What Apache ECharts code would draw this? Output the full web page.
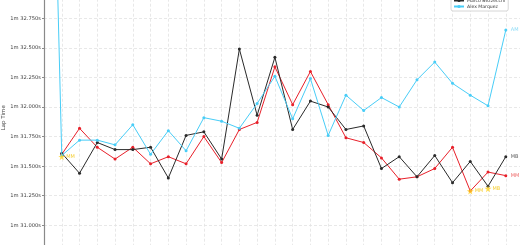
<!DOCTYPE html>
<html>
<head>
<meta charset="utf-8">
<script src="https://cdn.jsdelivr.net/npm/echarts@6/dist/echarts.min.js"></script>
<style>
html,body{margin:0;padding:0;background:#fff;}
#chart{width:520px;height:245px;}
</style>
</head>
<body>
<div id="chart"></div>
<script>
// Lap numbers
const laps = [1,2,3,4,5,6,7,8,9,10,11,12,13,14,15,16,17,18,19,20,21,22,23,24,25,26,27];
// Lap times in seconds (null = no lap shown)
const marcMarquez = [null,91.60,91.82,91.66,91.56,91.66,91.52,91.58,91.52,91.75,91.53,91.81,91.87,92.34,92.02,92.30,92.02,91.74,91.70,91.57,91.39,91.41,91.48,91.66,91.29,91.45,91.42];
const marcoBezzecchi = [null,91.61,91.44,91.70,91.64,91.64,91.66,91.40,91.76,91.79,91.56,92.49,91.93,92.42,91.81,92.05,92.00,91.81,91.84,91.48,91.58,91.41,91.59,91.36,91.54,91.33,91.58];
const alexMarquez = [97.6,91.59,91.72,91.72,91.68,91.85,91.60,91.80,91.63,91.91,91.88,91.82,92.03,92.26,91.90,92.24,91.76,92.10,91.97,92.08,92.00,92.23,92.38,92.20,92.10,92.01,92.65];
const seriesNames = ['Marc Marquez','Marco Bezzecchi','Alex Marquez'];
const endLabels = ['MM','MB','AM'];
// Fastest-lap stars
const starLaps = [2,25,26];
const starTimes = [91.58,91.29,91.31];
const starLabels = ['MM','MM','MB'];
// Y tick labels range
const yMin = 90.75, yMax = 93.0, yStep = 0.25;

const colors = ['#e8202a','#2a2a2a','#48cdf7'];
const labelColors = ['#ee6a6a','#666666','#8ddcf7'];
const allTimes = [marcMarquez, marcoBezzecchi, alexMarquez];

function pairs(arr){ return laps.map((l,i)=>[l, arr[i]]); }
function fmt(v){ const m=Math.floor(v/60); const s=v-m*60; return m+'m '+s.toFixed(3)+'s'; }

const starPath = 'path://M50,0 L61,35 L98,35 L68,57 L79,91 L50,70 L21,91 L32,57 L2,35 L39,35 Z';

const series = allTimes.map((arr,k)=>({
  name: seriesNames[k],
  type: 'line',
  data: pairs(arr),
  symbol: 'circle',
  symbolSize: 3,
  showSymbol: true,
  lineStyle: {width: 1, color: colors[k]},
  itemStyle: {color: colors[k]},
  connectNulls: false,
  animation: false,
  z: 2 + k,
  endLabel: {show: true, formatter: endLabels[k], fontSize: 5, color: labelColors[k], distance: 5, fontFamily: 'DejaVu Sans'}
}));
series.push({
  name: 'Fastest',
  type: 'scatter',
  data: starLaps.map((l,i)=>({value:[l, starTimes[i]], label:{formatter: starLabels[i]}})),
  symbol: starPath,
  symbolSize: 7,
  itemStyle: {color: '#ffd21f'},
  label: {show: true, position: 'right', distance: 1, fontSize: 5, color: '#f2c200', fontFamily: 'DejaVu Sans'},
  animation: false,
  z: 10
});

const chart = echarts.init(document.getElementById('chart'), null, {renderer: 'canvas'});
chart.setOption({
  backgroundColor: '#ffffff',
  animation: false,
  textStyle: {fontFamily: 'DejaVu Sans'},
  grid: {left: 44, right: 0, top: -11.3, bottom: -9.9, containLabel: false, outerBoundsMode: 'none'},
  legend: {
    data: seriesNames,
    orient: 'vertical',
    left: 451,
    top: -10,
    padding: [2, 3, 2, 2],
    itemGap: 1,
    itemWidth: 10,
    itemHeight: 4,
    backgroundColor: '#fff',
    borderColor: '#cccccc',
    borderWidth: 0.8,
    borderRadius: 2,
    textStyle: {fontSize: 4.6, color: '#333', lineHeight: 5, padding: [0,0,0,-2]}
  },
  xAxis: {
    type: 'value', min: 1, max: 27.8, interval: 1,
    axisLine: {show: false}, axisTick: {show: false}, axisLabel: {show: false},
    splitLine: {show: true, lineStyle: {color: '#e2e2e2', type: [3,2], width: 0.8}}
  },
  yAxis: {
    type: 'value', min: yMin, max: yMax, interval: yStep,
    name: 'Lap Time', nameLocation: 'middle', nameGap: 37, nameMoveOverlap: false,
    nameTextStyle: {fontSize: 5.5, color: '#444', padding: [0,0,0,8]},
    axisLine: {show: true, lineStyle: {color: '#8a8a8a', width: 1.2}},
    axisTick: {show: true, length: 2, lineStyle: {color: '#8a8a8a'}},
    axisLabel: {fontSize: 5.2, color: '#444', margin: 3, formatter: fmt},
    splitLine: {show: true, lineStyle: {color: '#e2e2e2', type: [3,2], width: 0.8}}
  },
  series: series
});
</script>
</body>
</html>
